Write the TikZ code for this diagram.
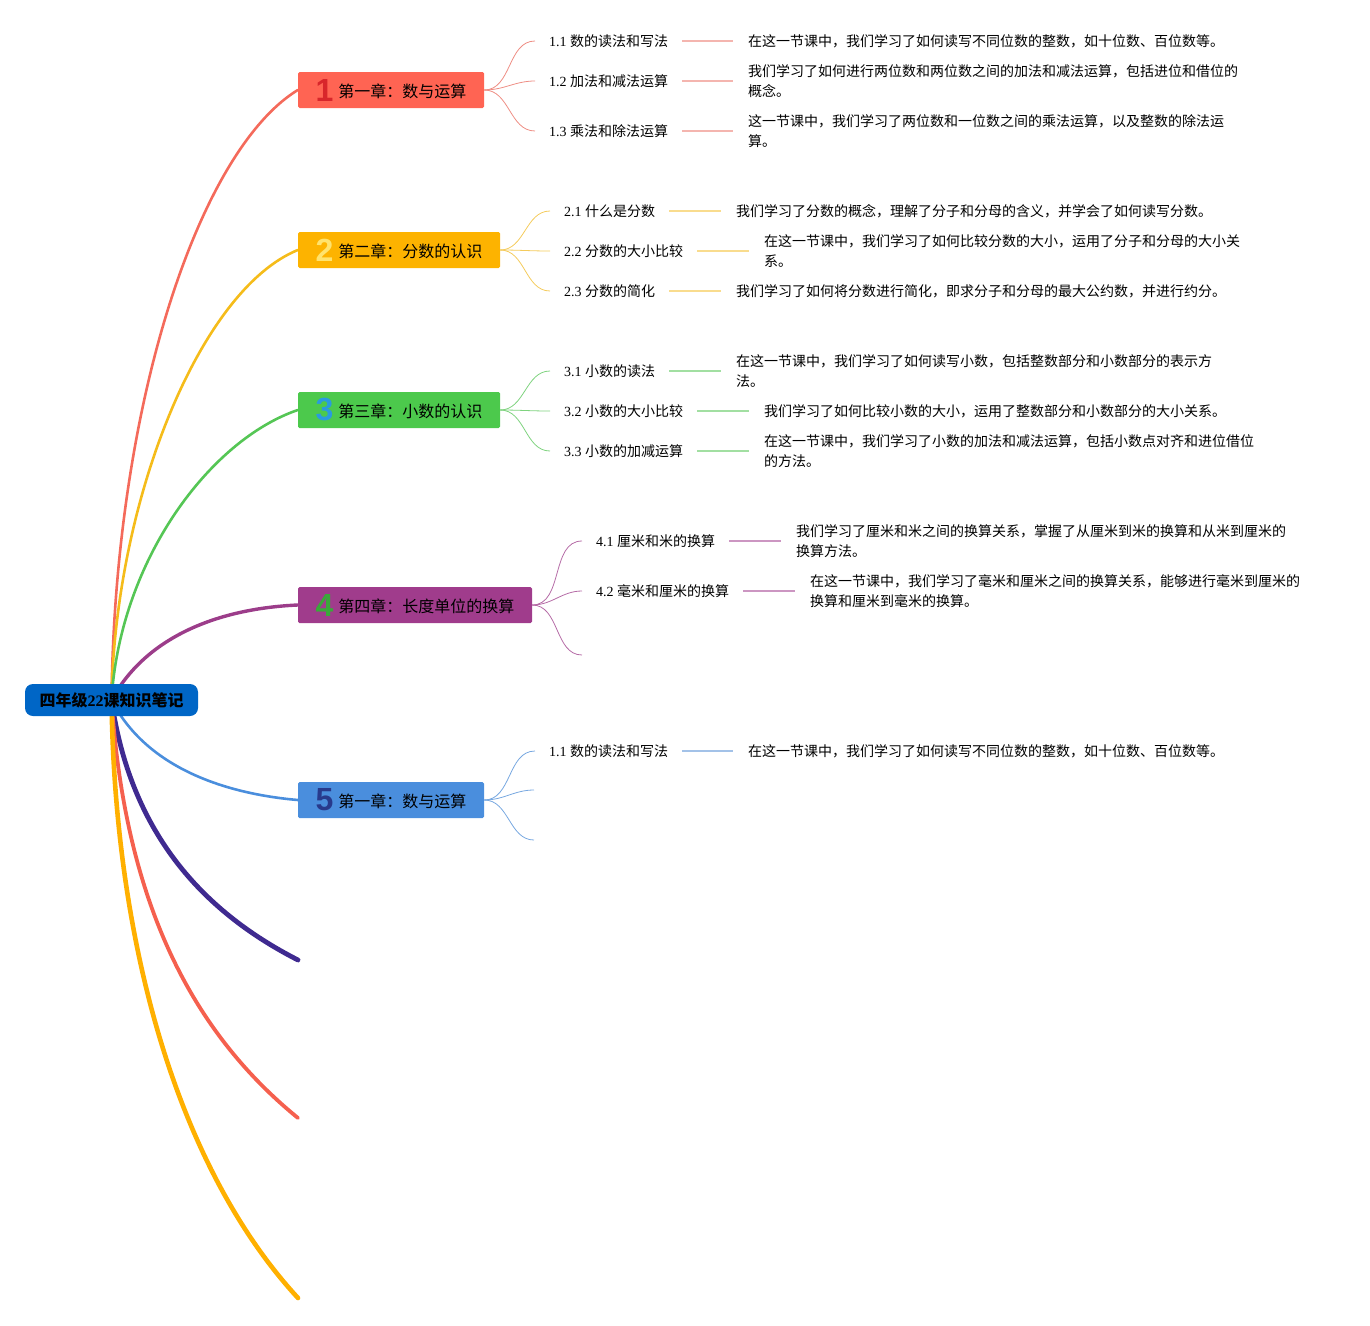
\documentclass[tikz,border=0pt]{standalone}
\usepackage{fontspec}
\setmainfont{Liberation Serif}
\newfontfamily\cjk{Noto Sans CJK SC}
\newfontfamily\numfont{Liberation Sans}
\usetikzlibrary{backgrounds}

% chapter colours: box fill, trunk, fan, link, number
\definecolor{boxA}{HTML}{FF6453}
\definecolor{boxB}{HTML}{FDB300}
\definecolor{boxC}{HTML}{4CC94C}
\definecolor{boxD}{HTML}{A03C8C}
\definecolor{boxE}{HTML}{4A8EDD}
\definecolor{rootblue}{HTML}{0066C6}
\definecolor{trunkA}{HTML}{F46A5B}
\definecolor{trunkB}{HTML}{F5BC1A}
\definecolor{trunkC}{HTML}{55C655}
\definecolor{trunkD}{HTML}{9C3D8A}
\definecolor{trunkE}{HTML}{4A8EDD}
\definecolor{trunkF}{HTML}{3F2A90}
\definecolor{trunkG}{HTML}{F5604E}
\definecolor{trunkH}{HTML}{FFB000}
\definecolor{fanA}{HTML}{EE8E84}
\definecolor{fanB}{HTML}{F4CB5C}
\definecolor{fanC}{HTML}{7FD37F}
\definecolor{fanD}{HTML}{B56BA6}
\definecolor{fanE}{HTML}{78A8E0}
\definecolor{linkA}{HTML}{F4B5AF}
\definecolor{linkB}{HTML}{F9DC8E}
\definecolor{linkC}{HTML}{A2DFA2}
\definecolor{linkD}{HTML}{CC96C2}
\definecolor{linkE}{HTML}{A3C2E8}
\definecolor{numA}{HTML}{D8262B}
\definecolor{numB}{HTML}{FFE36E}
\definecolor{numC}{HTML}{2A9BDE}
\definecolor{numD}{HTML}{3AA83A}
\definecolor{numE}{HTML}{283A8C}

\newcommand\chapnum[2]{\raisebox{-3.5pt}{\numfont\bfseries\fontsize{32}{32}\selectfont\color{#1}#2}\hspace{5pt}}

\begin{document}
\begin{tikzpicture}[
  x=1pt, y=-1pt,
  every node/.style={font=\cjk\fontsize{14}{20}\selectfont},
  root/.style={rectangle, rounded corners=8pt, fill=rootblue, minimum width=173pt, minimum height=32pt, inner sep=0pt, font=\cjk\fontsize{16}{18}\selectfont},
  chap/.style={rectangle, rounded corners=1.5pt, minimum height=36pt, inner sep=0pt, font=\cjk\fontsize{16}{18}\selectfont},
  sub/.style={anchor=west, inner xsep=14pt, inner ysep=2pt},
  desc/.style={anchor=west, align=left, inner xsep=15pt, inner ysep=0pt},
  trunk/.style={line width=2.6pt, line cap=round},
  fan/.style={line width=0.8pt},
  link/.style={line width=1.6pt}
]
\useasboundingbox (0,0) rectangle (1370,1325);

% Root
\node[root] (root) at (111.5,700) {\bfseries 四年级{\rmfamily 22}课知识笔记};

% Chapters
\node[chap, fill=boxA, minimum width=186pt] (ch1) at (391,90)  {\chapnum{numA}{1}第一章：数与运算};
\node[chap, fill=boxB, minimum width=202pt] (ch2) at (399,250) {\chapnum{numB}{2}第二章：分数的认识};
\node[chap, fill=boxC, minimum width=202pt] (ch3) at (399,410) {\chapnum{numC}{3}第三章：小数的认识};
\node[chap, fill=boxD, minimum width=234pt] (ch4) at (415,605) {\chapnum{numD}{4}第四章：长度单位的换算};
\node[chap, fill=boxE, minimum width=186pt] (ch5) at (391,800) {\chapnum{numE}{5}第一章：数与运算};

% Empty trunk ends
\coordinate (end6) at (298,960);
\coordinate (end7) at (298,1118);
\coordinate (end8) at (298,1298);

% Chapter 1
\node[sub] (s11) at (535,41)  {\rmfamily 1.1 \cjk 数的读法和写法};
\node[sub] (s12) at (535,81)  {\rmfamily 1.2 \cjk 加法和减法运算};
\node[sub] (s13) at (535,131) {\rmfamily 1.3 \cjk 乘法和除法运算};
\node[desc] (d11) at (733,41)  {在这一节课中，我们学习了如何读写不同位数的整数，如十位数、百位数等。};
\node[desc] (d12) at (733,81)  {我们学习了如何进行两位数和两位数之间的加法和减法运算，包括进位和借位的\\概念。};
\node[desc] (d13) at (733,131) {这一节课中，我们学习了两位数和一位数之间的乘法运算，以及整数的除法运\\算。};

% Chapter 2
\node[sub] (s21) at (550,211) {\rmfamily 2.1 \cjk 什么是分数};
\node[sub] (s22) at (550,251) {\rmfamily 2.2 \cjk 分数的大小比较};
\node[sub] (s23) at (550,291) {\rmfamily 2.3 \cjk 分数的简化};
\node[desc] (d21) at (721,211) {我们学习了分数的概念，理解了分子和分母的含义，并学会了如何读写分数。};
\node[desc] (d22) at (749,251) {在这一节课中，我们学习了如何比较分数的大小，运用了分子和分母的大小关\\系。};
\node[desc] (d23) at (721,291) {我们学习了如何将分数进行简化，即求分子和分母的最大公约数，并进行约分。};

% Chapter 3
\node[sub] (s31) at (550,371) {\rmfamily 3.1 \cjk 小数的读法};
\node[sub] (s32) at (550,411) {\rmfamily 3.2 \cjk 小数的大小比较};
\node[sub] (s33) at (550,451) {\rmfamily 3.3 \cjk 小数的加减运算};
\node[desc] (d31) at (721,371) {在这一节课中，我们学习了如何读写小数，包括整数部分和小数部分的表示方\\法。};
\node[desc] (d32) at (749,411) {我们学习了如何比较小数的大小，运用了整数部分和小数部分的大小关系。};
\node[desc] (d33) at (749,451) {在这一节课中，我们学习了小数的加法和减法运算，包括小数点对齐和进位借位\\的方法。};

% Chapter 4
\node[sub] (s41) at (582,541) {\rmfamily 4.1 \cjk 厘米和米的换算};
\node[sub] (s42) at (582,591) {\rmfamily 4.2 \cjk 毫米和厘米的换算};
\coordinate (s43) at (582,655);
\node[desc] (d41) at (781,541) {我们学习了厘米和米之间的换算关系，掌握了从厘米到米的换算和从米到厘米的\\换算方法。};
\node[desc] (d42) at (795,591) {在这一节课中，我们学习了毫米和厘米之间的换算关系，能够进行毫米到厘米的\\换算和厘米到毫米的换算。};

% Chapter 5
\node[sub] (s51) at (535,751) {\rmfamily 1.1 \cjk 数的读法和写法};
\coordinate (s52) at (534,790);
\coordinate (s53) at (534,840);
\node[desc] (d51) at (733,751) {在这一节课中，我们学习了如何读写不同位数的整数，如十位数、百位数等。};

% Trunks from the root
\begin{scope}[on background layer]
\draw[trunk, trunkA] (root.center) .. controls (115,400) and (200,150) .. (ch1.west);
\draw[trunk, trunkB] (root.center) .. controls (115,500) and (200,290) .. (ch2.west);
\draw[trunk, trunkC] (root.center) .. controls (120,560) and (210,440) .. (ch3.west);
\draw[trunk, trunkD, line width=3.4pt] (root.center) .. controls (150,630) and (230,608) .. (ch4.west);
\draw[trunk, trunkE] (root.center) .. controls (150,775) and (240,795) .. (ch5.west);
\draw[trunk, trunkF, line width=4.8pt] (root.center) .. controls (130,830) and (200,910) .. (end6);
\draw[trunk, trunkG, line width=3.8pt] (root.center) .. controls (125,900) and (190,1030) .. (end7);
\draw[trunk, trunkH, line width=4.6pt] (root.center) .. controls (115,950) and (180,1170) .. (end8);
\end{scope}

% Fans
\draw[fan, fanA] (ch1.east) to[out=0, in=180] (s11.west);
\draw[fan, fanA] (ch1.east) to[out=0, in=180] (s12.west);
\draw[fan, fanA] (ch1.east) to[out=0, in=180] (s13.west);
\draw[fan, fanB] (ch2.east) to[out=0, in=180] (s21.west);
\draw[fan, fanB] (ch2.east) to[out=0, in=180] (s22.west);
\draw[fan, fanB] (ch2.east) to[out=0, in=180] (s23.west);
\draw[fan, fanC] (ch3.east) to[out=0, in=180] (s31.west);
\draw[fan, fanC] (ch3.east) to[out=0, in=180] (s32.west);
\draw[fan, fanC] (ch3.east) to[out=0, in=180] (s33.west);
\draw[fan, fanD] (ch4.east) to[out=0, in=180] (s41.west);
\draw[fan, fanD] (ch4.east) to[out=0, in=180] (s42.west);
\draw[fan, fanD] (ch4.east) to[out=0, in=180] (s43);
\draw[fan, fanE] (ch5.east) to[out=0, in=180] (s51.west);
\draw[fan, fanE] (ch5.east) to[out=0, in=180] (s52);
\draw[fan, fanE] (ch5.east) to[out=0, in=180] (s53);

% Links to descriptions
\draw[link, linkA] (s11) -- (d11);
\draw[link, linkA] (s12) -- (d12);
\draw[link, linkA] (s13) -- (d13);
\draw[link, linkB] (s21) -- (d21);
\draw[link, linkB] (s22) -- (d22);
\draw[link, linkB] (s23) -- (d23);
\draw[link, linkC] (s31) -- (d31);
\draw[link, linkC] (s32) -- (d32);
\draw[link, linkC] (s33) -- (d33);
\draw[link, linkD] (s41) -- (d41);
\draw[link, linkD] (s42) -- (d42);
\draw[link, linkE] (s51) -- (d51);

\end{tikzpicture}
\end{document}
